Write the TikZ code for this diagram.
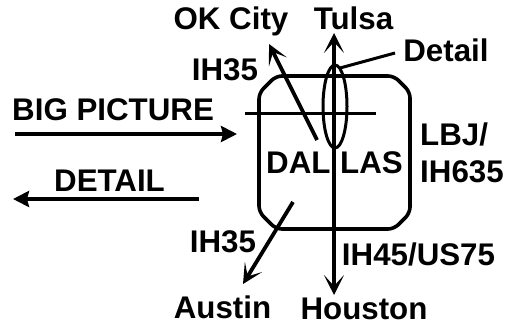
\documentclass[tikz,border=0pt]{standalone}
\usepackage{fontspec}
\setmainfont{Liberation Sans}
\usetikzlibrary{arrows.meta,shapes.geometric}
\tikzset{
  lab/.style={font=\fontsize{31.3}{31.3}\selectfont\bfseries,inner sep=0pt,anchor=base,text=black,draw=none},
  labw/.style={lab,anchor=base west},
  ar/.style={line width=3.6pt,-{Stealth[length=16pt,width=16pt,inset=2pt]}},
  opn/.style={line width=3.8pt,-{Stealth[length=20pt,width=20pt,inset=11pt]}},
  thin line/.style={line width=3pt}
}
\begin{document}
\begin{tikzpicture}[x=1pt,y=-1pt]
\useasboundingbox (0,0) rectangle (505,326);
\fill[white] (0,0) rectangle (505,326);
\node[lab] (ok) at (231,30) {OK City};
\node[lab] (tulsa) at (353.5,30) {Tulsa};
\node[lab] (detail) at (446,62) {Detail};
\node[lab] (ih35a) at (225,81) {IH35};
\node[labw] (big) at (12,120) {BIG PICTURE};
\node[labw] (lbj) at (420,145) {LBJ/};
\node[labw] (ih635) at (420,182) {IH635};
\node[labw] (dal) at (266,173) {DAL};
\node[labw] (las) at (340,173) {LAS};
\node[lab] (det) at (109.5,191) {DETAIL};
\node[lab] (ih35b) at (223,252) {IH35};
\node[lab] (ih45) at (418.5,265) {IH45/US75};
\node[lab] (austin) at (222.5,318) {Austin};
\node[lab] (houston) at (364,319) {Houston};
\draw[line width=3.6pt,rounded corners=6pt] (276,76) -- (394,76) -- (410,92) -- (410,213) -- (394,229) -- (276,229) -- (259,212) -- (259,93) -- cycle;
\coordinate (vt) at (334,33);
\coordinate (vb) at (334,295);
\draw[opn] (334,165) -- (vt);
\draw[opn] (334,165) -- (vb);
\coordinate (hl) at (245,113);
\coordinate (hr) at (376,113);
\draw[thin line] (hl) -- (hr);
\node[draw,ellipse,line width=3pt,minimum width=24pt,minimum height=83pt,inner sep=0pt] (ell) at (335,106.5) {};
\coordinate (dl) at (340,68);
\coordinate (dr) at (395,53);
\draw[thin line] (dl) -- (dr);
\coordinate (oks) at (317,140);
\coordinate (oke) at (269,44);
\draw[opn] (oks) -- (oke);
\coordinate (aus) at (293,202);
\coordinate (aue) at (243,284);
\draw[opn] (aus) -- (aue);
\coordinate (bs) at (15,134);
\coordinate (be) at (237,134);
\draw[ar] (bs) -- (be);
\coordinate (ds) at (199,199);
\coordinate (de) at (13,199);
\draw[ar] (ds) -- (de);
\end{tikzpicture}
\end{document}
